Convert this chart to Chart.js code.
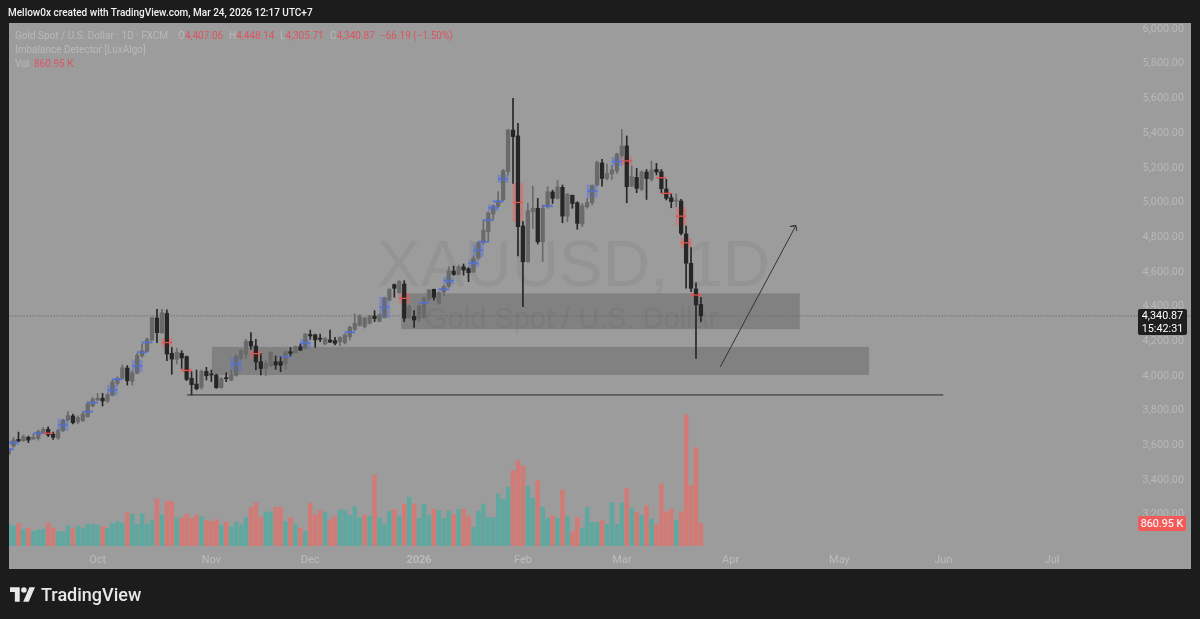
<!DOCTYPE html>
<html>
<head>
<meta charset="utf-8">
<title>XAUUSD 1D</title>
<script src="https://cdn.jsdelivr.net/npm/chart.js@4/dist/chart.umd.min.js"></script>
<style>
    html, body { margin: 0; padding: 0; background: #1c1c1c; }
    #page { position: relative; width: 1200px; height: 619px; overflow: hidden; font-family: Roboto, sans-serif; }
    #panel { position: absolute; left: 9px; top: 23px; width: 1182px; height: 546px; background: #9c9c9c; }
    #grafico { position: absolute; left: 0; top: 0; }
    .txt { position: absolute; white-space: nowrap; line-height: 14px; font-size: 10px; color: #b9b9b9; }
    .rojo { color: #dd5560; }
    .marca { position: absolute; white-space: nowrap; color: #949494; font-family: "Liberation Sans", sans-serif; }
    .caja { position: absolute; color: #fff; text-align: center; font-size: 10.8px; line-height: 13px; border-radius: 2px; }
</style>
</head>
<body>
<div id="page">
    <div id="panel"></div>
    <div class="marca" style="left:377px;top:226px;font-size:65.5px;line-height:76px">XAUUSD, 1D</div>
    <div class="marca" style="left:425px;top:303px;font-size:29px;line-height:30px">Gold Spot / U.S. Dollar</div>
    <canvas id="grafico" width="1200" height="619"></canvas>

    <div class="txt" style="left:8px;top:6px;color:#f2f2f2;font-weight:500">Mellow0x created with TradingView.com, Mar 24, 2026 12:17 UTC+7</div>
    <div class="txt" style="left:15px;top:29px">Gold Spot / U.S. Dollar · 1D · FXCM</div>
    <div class="txt" style="left:178px;top:29px">O<span class="rojo">4,407.06</span></div>
    <div class="txt" style="left:229px;top:29px">H<span class="rojo">4,448.14</span></div>
    <div class="txt" style="left:280px;top:29px">L<span class="rojo">4,305.71</span></div>
    <div class="txt" style="left:330px;top:29px">C<span class="rojo">4,340.87</span></div>
    <div class="txt rojo" style="left:380px;top:29px">−66.19 (−1.50%)</div>
    <div class="txt" style="left:15px;top:43px">Imbalance Detector [LuxAlgo]</div>
    <div class="txt" style="left:15px;top:57px">Vol</div>
    <div class="txt rojo" style="left:34px;top:57px">860.95 K</div>

    <div class="caja" style="left:1138px;top:309px;width:49px;height:26px;background:#1f1f1f">4,340.87<br>15:42:31</div>
    <div class="caja" style="left:1138px;top:516px;width:48px;height:15px;line-height:15px;background:#f25a5a">860.95 K</div>

    <svg style="position:absolute;left:10px;top:587px" width="25" height="15" viewBox="0 0 36 21" fill="#e8e8e8">
        <path d="M14 0H0v7h7v14h7V0Z"/><circle cx="20" cy="4" r="4"/><path d="M29 0h7l-9 21h-8l9-21Z"/>
    </svg>
    <div class="txt" style="left:41px;top:583px;color:#e8e8e8;font-size:18px;line-height:24px;font-weight:500">TradingView</div>
</div>

<script>
// ================== DATOS ==================

const opens = [3543,3591,3629,3622,3641,3631,3635,3668,3687,3660,3637,3679,3741,3764,3729,3737,3760,3821,3856,3866,
    3850,3883,3952,3981,4040,3963,4010,4110,4138,4202,4329,4244,4355,4125,4090,4125,4106,3981,3948,3929,
    4021,4006,3998,3927,3985,3971,3998,4098,4119,4194,4167,4077,4038,4052,4077,4077,4063,4134,4129,4163,
    4154,4234,4231,4213,4179,4202,4198,4192,4186,4221,4263,4286,4279,4298,4340,4309,4332,4432,4521,4475,
    4525,4329,4338,4327,4330,4436,4494,4413,4478,4509,4599,4580,4624,4613,4594,4672,4763,4826,4928,4974,
    5009,5172,5412,5378,4859,4653,4941,4961,4768,4970,5055,5018,5082,4916,5036,4993,4870,4970,4993,5095,
    5222,5133,5159,5176,5264,5320,5089,5139,5070,5170,5128,5185,5172,5072,5022,5003,5003,4813,4644,4496,4407.06];
const highs = [3577,3641,3671,3654,3648,3658,3683,3698,3702,3671,3687,3746,3789,3775,3764,3785,3846,3871,3894,3894,
    3894,3971,3990,4058,4054,4025,4125,4179,4215,4336,4378,4378,4375,4159,4154,4140,4110,4019,4029,4029,
    4044,4029,4006,3987,4013,4029,4115,4148,4206,4244,4206,4125,4083,4134,4110,4106,4138,4159,4167,4179,
    4240,4259,4236,4236,4217,4259,4217,4221,4236,4282,4352,4348,4332,4346,4371,4352,4448,4498,4525,4544,
    4544,4403,4371,4403,4451,4494,4496,4478,4519,4624,4628,4634,4640,4619,4686,4769,4893,4940,4980,5057,
    5185,5416,5595,5451,4884,4989,5089,5018,4980,5085,5066,5120,5095,5047,5037,4999,4989,5018,5095,5233,
    5243,5216,5205,5278,5416,5378,5205,5191,5178,5185,5233,5220,5185,5128,5043,5043,5012,4859,4734,4532,4448.14];
const lows = [3539,3583,3616,3616,3610,3629,3625,3665,3645,3629,3629,3673,3735,3718,3718,3731,3756,3817,3852,3821,
    3841,3879,3942,3977,3942,3942,4006,4102,4134,4198,4186,4240,4083,4004,4063,4038,3967,3885,3914,3917,
    3971,3962,3923,3923,3962,3968,3994,4090,4096,4148,4029,4000,3996,4048,4033,4019,4033,4110,4125,4140,
    4150,4206,4159,4192,4173,4186,4173,4167,4179,4202,4255,4282,4271,4294,4307,4307,4328,4428,4448,4471,
    4307,4325,4275,4307,4327,4428,4432,4409,4455,4505,4574,4576,4576,4538,4590,4667,4755,4769,4897,4966,
    5005,5153,5105,4686,4394,4649,4845,4755,4653,4961,4989,5014,4878,4884,4961,4840,4855,4961,4980,5091,
    5089,5124,5128,5162,5255,4993,5086,5051,5062,5012,5118,5153,5051,5009,4964,4970,4807,4500,4480,4096,4305.71];
const closes = [3568,3625,3620,3645,3625,3641,3675,3687,3654,3641,3679,3737,3766,3725,3756,3775,3833,3860,3866,3850,
    3885,3960,3979,4042,3967,4013,4113,4140,4206,4329,4244,4359,4121,4092,4131,4098,3975,3944,3921,4021,
    3996,4000,3927,3979,3979,4000,4110,4140,4194,4167,4075,4038,4067,4131,4058,4056,4134,4125,4163,4144,
    4236,4225,4202,4206,4210,4190,4183,4217,4231,4275,4298,4340,4329,4340,4325,4346,4444,4494,4500,4540,
    4327,4394,4317,4400,4442,4490,4448,4475,4509,4601,4580,4624,4605,4590,4672,4763,4836,4936,4970,5005,
    5178,5412,5374,4855,4653,4947,4961,4768,4961,5057,5018,5085,4916,5041,4989,4874,4976,4995,5091,5226,
    5133,5162,5182,5274,5320,5086,5143,5076,5170,5132,5182,5170,5074,5018,4999,5009,4817,4644,4500,4404,4340.87];
const volumes = [823,772,861,633,684,557,608,633,886,684,557,532,772,684,760,684,823,823,798,747,
    671,861,924,861,1266,1215,823,1228,836,975,1798,1190,1696,1696,1063,1063,1215,1063,1177,1114,
    975,937,1013,785,899,734,912,810,1076,1469,1646,1101,1291,1291,1469,1469,924,1076,810,684,
    557,1620,1190,1355,1291,987,1114,1367,1355,1165,1494,1076,1177,1139,2697,1076,823,1317,1393,1139,
    1595,1848,1595,1051,1595,1165,1393,1342,1051,1317,1190,1393,1393,1139,709,1317,1595,1089,1076,1975,
    1772,2228,2861,3241,3038,2279,1810,2481,1469,1051,1139,1051,2127,1114,544,1089,684,1469,899,899,
    962,823,1658,823,1633,2190,1431,1291,1152,1532,1025,810,2355,1291,1405,987,1291,4975,2304,3735,860.95];
// barra de volumen cuyo color no sigue a la vela
const volumeFlip = [72];

const currentPrice = 4340.87;

// Desequilibrios del indicador: [barra, minimo, maximo]
const imbalanceBlue = [[0,3567,3577],[1,3600,3620],[6,3659,3669],[11,3679,3744],[16,3784,3794],[17,3836,3846],
    [21,3885,3942],[22,3970,3980],[26,4019,4086],[27,4126,4136],[28,4183,4193],[46,4023,4102],[56,4101,4111],
    [60,4159,4206],[69,4241,4251],[76,4332,4448],[84,4412,4422],[88,4489,4499],[89,4525,4563],[94,4624,4663],
    [95,4682,4755],[96,4763,4773],[97,4888,4898],[98,4947,4980],[99,4995,5005],[100,5109,5153],[109,4969,4979],
    [118,5024,5095],[123,5205,5255]];
const imbalanceRed = [[8,3659,3669],[32,4163,4211],[36,4015,4038],[50,4102,4144],[80,4413,4471],[103,4884,5105],
    [125,5210,5258],[132,5132,5142],[133,5042,5052],[136,4865,4966],[137,4736,4788],[139,4451,4471]];

// Zonas dibujadas a mano: [barra inicio, barra fin, minimo, maximo]
const zones = [[79.4,160,4264,4471],[41.1,174,4000,4162]];
const supportLine = [{x:36.1,y:3885},{x:189,y:3885}];
const arrowLine = [{x:143.9,y:4046},{x:159.2,y:4861},{x:158,y:4856},{x:159.2,y:4861},{x:159.4,y:4830}];

const priceTicks = [6000,5800,5600,5400,5200,5000,4800,4600,4400,4200,4000,3800,3600,3400,3200];
const timeTicks = [18,41,61,83,104,124,146,168,189,211];
const timeLabels = ['Oct','Nov','Dec','2026','Feb','Mar','Apr','May','Jun','Jul'];

// ================== GRAFICO ==================

const colorUp = '#6a6a6a';
const colorDown = '#262626';
const barIndex = closes.map(function (c, i) { return i; });

function isUp(i) {
    return closes[i] >= opens[i];
}

function volumeColor(i) {
    const up = volumeFlip.includes(i) ? !isUp(i) : isUp(i);
    return up ? '#5fa8a0' : '#d27a75';
}

function boxes(list) {
    return list.map(function (m) { return {x: m[0], y: [m[1], m[2]]}; });
}

function midLines(list) {
    return list.map(function (m) { return {x: m[0], y: (m[1] + m[2]) / 2}; });
}

// Zonas grises por debajo de las velas
const zonasPlugin = {
    id: 'zonas',
    beforeDatasetsDraw: function (chart) {
        const ctx = chart.ctx;
        const x = chart.scales.x;
        const y = chart.scales.y;
        ctx.save();
        ctx.fillStyle = 'rgba(0,0,0,0.17)';
        zones.forEach(function (z) {
            const left = x.getPixelForValue(z[0]);
            const top = y.getPixelForValue(z[3]);
            ctx.fillRect(left, top, x.getPixelForValue(z[1]) - left, y.getPixelForValue(z[2]) - top);
        });
        ctx.restore();
    }
};

const config = {
    type: 'bar',
    data: {
        datasets: [
            {
                label: 'Cuerpo',
                order: 2,
                yAxisID: 'y',
                barThickness: 3.6,
                minBarLength: 1,
                data: barIndex.map(function (i) { return {x: i, y: [opens[i], closes[i]]}; }),
                backgroundColor: function (c) { return isUp(c.dataIndex) ? colorUp : colorDown; }
            },
            {
                label: 'Mecha',
                order: 3,
                yAxisID: 'y',
                barThickness: 1,
                data: barIndex.map(function (i) { return {x: i, y: [lows[i], highs[i]]}; }),
                backgroundColor: function (c) { return isUp(c.dataIndex) ? colorUp : colorDown; }
            },
            {
                label: 'Desequilibrio azul',
                order: 4,
                yAxisID: 'y',
                barThickness: 10,
                minBarLength: 1,
                data: boxes(imbalanceBlue),
                backgroundColor: 'rgba(70,110,235,0.4)'
            },
            {
                label: 'Desequilibrio rojo',
                order: 4,
                yAxisID: 'y',
                barThickness: 10,
                minBarLength: 1,
                data: boxes(imbalanceRed),
                backgroundColor: 'rgba(245,90,85,0.42)'
            },
            {
                type: 'scatter',
                label: 'Media azul',
                order: 1,
                yAxisID: 'y',
                data: midLines(imbalanceBlue),
                pointStyle: 'line',
                pointRadius: 5,
                pointBorderWidth: 1.3,
                borderColor: '#4f6fdc',
                backgroundColor: '#4f6fdc'
            },
            {
                type: 'scatter',
                label: 'Media roja',
                order: 1,
                yAxisID: 'y',
                data: midLines(imbalanceRed),
                pointStyle: 'line',
                pointRadius: 5,
                pointBorderWidth: 1.3,
                borderColor: '#e0524f',
                backgroundColor: '#e0524f'
            },
            {
                label: 'Vol',
                order: 5,
                yAxisID: 'yVol',
                barThickness: 3.8,
                data: barIndex.map(function (i) { return {x: i, y: volumes[i]}; }),
                backgroundColor: function (c) { return volumeColor(c.dataIndex); }
            },
            {
                type: 'line',
                label: 'Precio actual',
                order: 6,
                yAxisID: 'y',
                data: [{x: 0, y: currentPrice}, {x: 240, y: currentPrice}],
                borderColor: '#5a5a5a',
                borderWidth: 1,
                borderDash: [1, 2],
                pointRadius: 0
            },
            {
                type: 'line',
                label: 'Soporte',
                order: 1,
                yAxisID: 'y',
                data: supportLine,
                borderColor: '#2a2a2a',
                borderWidth: 1,
                pointRadius: 0
            },
            {
                type: 'line',
                label: 'Flecha',
                order: 1,
                yAxisID: 'y',
                data: arrowLine,
                borderColor: '#333333',
                borderWidth: 1,
                pointRadius: 0
            }
        ]
    },
    options: {
        responsive: false,
        animation: false,
        events: [],
        layout: { padding: { left: 9, right: 9, top: 23, bottom: 50 } },
        datasets: { bar: { grouped: false } },
        plugins: {
            legend: { display: false },
            title: { display: false },
            tooltip: { enabled: false }
        },
        scales: {
            x: {
                type: 'linear',
                offset: false,
                min: 0.08,
                max: 239.1,
                grid: { display: false },
                border: { display: false },
                afterBuildTicks: function (scale) {
                    scale.ticks = timeTicks.map(function (v) { return {value: v}; });
                },
                afterFit: function (scale) { scale.height = 23; },
                ticks: {
                    autoSkip: false,
                    maxRotation: 0,
                    padding: 0,
                    color: '#bcbcbc',
                    font: function (c) {
                        const bold = c.tick && timeLabels[timeTicks.indexOf(c.tick.value)] === '2026';
                        return {family: 'Roboto', size: 11, weight: bold ? 'bold' : 'normal'};
                    },
                    callback: function (value) { return timeLabels[timeTicks.indexOf(value)]; }
                }
            },
            y: {
                type: 'linear',
                position: 'right',
                min: 3014.4,
                max: 6029,
                grid: { display: false },
                border: { display: false },
                afterBuildTicks: function (scale) {
                    scale.ticks = priceTicks.map(function (v) { return {value: v}; });
                },
                afterFit: function (scale) { scale.width = 0; },
                ticks: {
                    autoSkip: false,
                    mirror: true,
                    padding: -7,
                    labelOffset: 1,
                    color: '#b9b9b9',
                    font: { family: 'Roboto', size: 10.8 },
                    callback: function (value) {
                        return value.toLocaleString('en-US', {minimumFractionDigits: 2});
                    }
                }
            },
            yVol: {
                type: 'linear',
                display: false,
                min: 0,
                max: 19863
            }
        }
    },
    plugins: [zonasPlugin]
};

new Chart(document.getElementById('grafico'), config);
</script>
</body>
</html>
